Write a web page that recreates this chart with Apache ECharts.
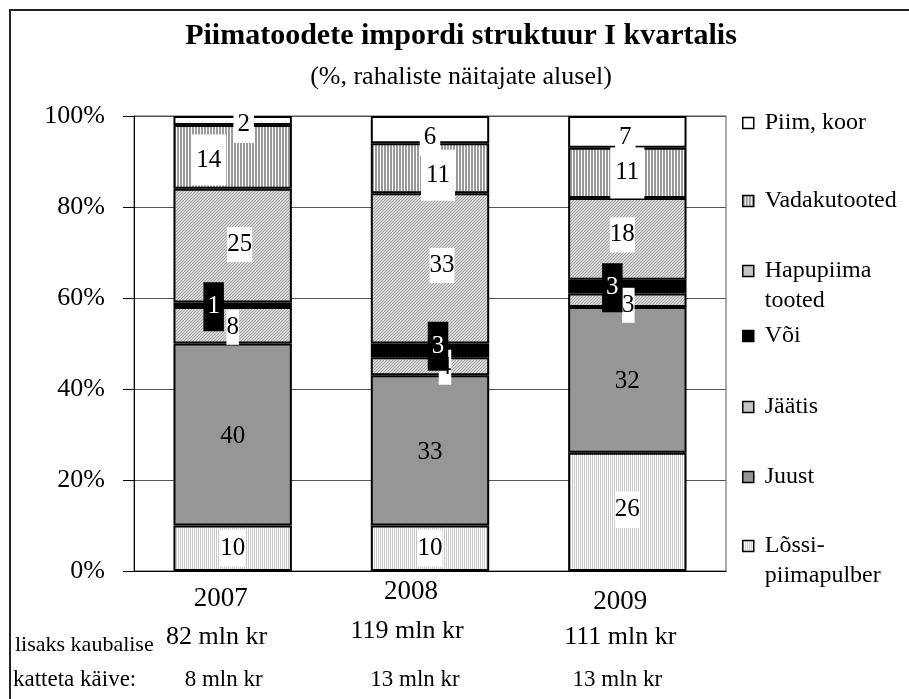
<!DOCTYPE html>
<html>
<head>
<meta charset="utf-8">
<script src="https://cdn.jsdelivr.net/npm/echarts@6/dist/echarts.min.js"></script>
<style>
html, body { margin: 0; padding: 0; background: #fff; }
#main { width: 909px; height: 699px; }
</style>
</head>
<body>
<div id="main"></div>
<script>
// data (percent of import value, Q1)
var years = ['2007', '2008', '2009'];
var lossi = [10, 10, 26];
var juust = [40, 33, 32];
var jaatis = [8, 4, 3];
var voi = [1, 3, 3];
var hapupiima = [25, 33, 18];
var vadaku = [14, 11, 11];
var piim = [2, 6, 7];
var importMln = [82, 119, 111];
var extraMln = [8, 13, 13];

var serif = "'Liberation Serif', 'Times New Roman', serif";

// small canvas tiles to mimic the hatch fills
function tile(w, h, bg, fg, dots) {
    var c = document.createElement('canvas');
    c.width = w; c.height = h;
    var ctx = c.getContext('2d');
    ctx.fillStyle = bg;
    ctx.fillRect(0, 0, w, h);
    ctx.fillStyle = fg;
    dots.forEach(function (p) { ctx.fillRect(p[0], p[1], 1, 1); });
    return { image: c, repeat: 'repeat' };
}
var fillVadaku = tile(3, 1, '#ffffff', '#9a9a9a', [[0, 0], [1, 0]]);
var fillHapu = tile(3, 3, '#d6d6d6', '#a4a4a4', [[2, 0], [1, 1], [0, 2]]);
var fillJaatis = tile(3, 3, '#d6d6d6', '#a4a4a4', [[2, 0], [1, 1], [0, 2]]);
var fillLossi = tile(2, 1, '#ffffff', '#c8c8c8', [[0, 0]]);

var defs = [
    { name: 'Lõssipiimapulber', legend: ['Lõssi-', 'piimapulber'], data: lossi, color: fillLossi,
      label: { backgroundColor: '#fff', padding: [6, 0] }, shift: [[0, 0], [0, 0], [0, -2]], legendTop: 501 },
    { name: 'Juust', legend: ['Juust'], data: juust, color: '#969696',
      label: { padding: 0 }, shift: [[0, 2], [0, 2], [0, 2]], legendTop: 462 },
    { name: 'Jäätis', legend: ['Jäätis'], data: jaatis, color: fillJaatis,
      label: { backgroundColor: '#fff', padding: [5, 0] }, shift: [[0, 2], [15, 1], [1, 5]], legendTop: 392 },
    { name: 'Või', legend: ['Või'], data: voi, color: '#000',
      label: { backgroundColor: '#000', color: '#fff', padding: [12, 4] }, shift: [[-19, 2], [8, -4], [-15, 1]], legendTop: 321 },
    { name: 'Hapupiima tooted', legend: ['Hapupiima', 'tooted'], data: hapupiima, color: fillHapu,
      label: { backgroundColor: '#fff', padding: [5, 0] }, shift: [[7, -1], [12, -3], [-5, -4]], legendTop: 226 },
    { name: 'Vadakutooted', legend: ['Vadakutooted'], data: vadaku, color: fillVadaku,
      label: { backgroundColor: '#fff', padding: [13, 5] }, shift: [[-24, 3], [8, 7], [0, 0]], legendTop: 186 },
    { name: 'Piim, koor', legend: ['Piim, koor'], data: piim, color: '#fff',
      label: { backgroundColor: '#fff', padding: [0, 4, 12, 4] }, shift: [[11, 4], [0, 8], [-2, 6]], legendTop: 108 }
];

var series = defs.map(function (d) {
    return {
        name: d.name,
        type: 'bar',
        stack: 'total',
        barWidth: '60%',
        itemStyle: { color: d.color, borderColor: '#000', borderWidth: 2 },
        label: Object.assign({
            show: true,
            position: 'inside',
            formatter: '{c}',
            fontSize: 25,
            fontFamily: serif,
            color: '#000'
        }, d.label),
        data: d.data.map(function (v, i) {
            return { value: v, label: { offset: d.shift[i] } };
        })
    };
});

var legends = defs.map(function (d) {
    // two-line names get an empty leading line so the icon sits at the first line
    var lines = d.legend.length > 1 ? [''].concat(d.legend) : d.legend;
    return {
        data: [d.name],
        left: 742,
        top: d.legendTop,
        padding: 0,
        itemWidth: 11,
        itemHeight: 11,
        itemGap: 0,
        icon: 'rect',
        selectedMode: false,
        itemStyle: { borderColor: '#000', borderWidth: 1.5 },
        formatter: function () {
            return lines.map(function (s) { return '{s|}' + s; }).join('\n');
        },
        textStyle: {
            fontFamily: serif,
            fontSize: 24,
            color: '#000',
            lineHeight: 30,
            rich: { s: { width: 6, lineHeight: 30 } }
        }
    };
});

// category label nudges (the original labels are staggered)
var yearStyle = [
    { padding: [9, 24, 0, 0] },
    { padding: [2, 38, 0, 0] },
    { padding: [12, 14, 0, 0] }
];

var myChart = echarts.init(document.getElementById('main'));

var option = {
    animation: false,
    backgroundColor: '#fff',
    title: [
        {
            text: 'Piimatoodete impordi struktuur I kvartalis',
            left: 461, top: 21, textAlign: 'center', padding: 0,
            textStyle: { fontFamily: serif, fontSize: 30, fontWeight: 'bold', color: '#000', lineHeight: 30 }
        },
        {
            text: '(%, rahaliste näitajate alusel)',
            left: 461, top: 64, textAlign: 'center', padding: 0,
            textStyle: { fontFamily: serif, fontSize: 26, fontWeight: 'normal', color: '#000', lineHeight: 26 }
        }
    ],
    legend: legends,
    grid: {
        left: 134, right: 183, top: 116, bottom: 128,
        show: true, borderColor: '#555', borderWidth: 1
    },
    xAxis: {
        type: 'category',
        data: years.map(function (y, i) { return { value: y, textStyle: yearStyle[i] }; }),
        axisLine: { lineStyle: { color: '#000', width: 1 } },
        axisTick: { show: false },
        axisLabel: {
            margin: 4,
            fontFamily: serif,
            fontSize: 27,
            lineHeight: 30,
            color: '#000',
            verticalAlign: 'top'
        }
    },
    yAxis: {
        type: 'value',
        min: 0,
        max: 100,
        interval: 20,
        axisLine: { show: true, lineStyle: { color: '#000', width: 1 } },
        axisTick: { show: true, length: 11, lineStyle: { color: '#000' } },
        splitLine: { lineStyle: { color: '#555', width: 1 } },
        axisLabel: {
            formatter: '{value}%',
            margin: 29,
            fontFamily: serif,
            fontSize: 26,
            color: '#000'
        }
    },
    series: series
};

myChart.setOption(option);

// bottom text rows under the years
var row1Y = [637, 631, 637], row1Dx = [-16, -23, -7];
var row2Y = [680, 680, 680], row2Dx = [-9, -15, -10];
var graphics = [
    {
        type: 'rect', silent: true, z: -1,
        shape: { x: 10, y: 10, width: 1000, height: 1000 },
        style: { fill: null, stroke: '#222', lineWidth: 2 }
    },
    {
        type: 'text', x: 15, y: 645,
        style: { text: 'lisaks kaubalise', font: '22px ' + serif, fill: '#000', align: 'left', verticalAlign: 'middle' }
    },
    {
        type: 'text', x: 13, y: 680,
        style: { text: 'katteta käive:', font: '23px ' + serif, fill: '#000', align: 'left', verticalAlign: 'middle' }
    }
];
years.forEach(function (y, i) {
    var cx = myChart.convertToPixel({ xAxisIndex: 0 }, y);
    graphics.push({
        type: 'text', x: cx + row1Dx[i], y: row1Y[i],
        style: { text: importMln[i] + ' mln kr', font: '26px ' + serif, fill: '#000', align: 'center', verticalAlign: 'middle' }
    });
    graphics.push({
        type: 'text', x: cx + row2Dx[i], y: row2Y[i],
        style: { text: extraMln[i] + ' mln kr', font: '23px ' + serif, fill: '#000', align: 'center', verticalAlign: 'middle' }
    });
});
myChart.setOption({ graphic: graphics });
</script>
</body>
</html>
